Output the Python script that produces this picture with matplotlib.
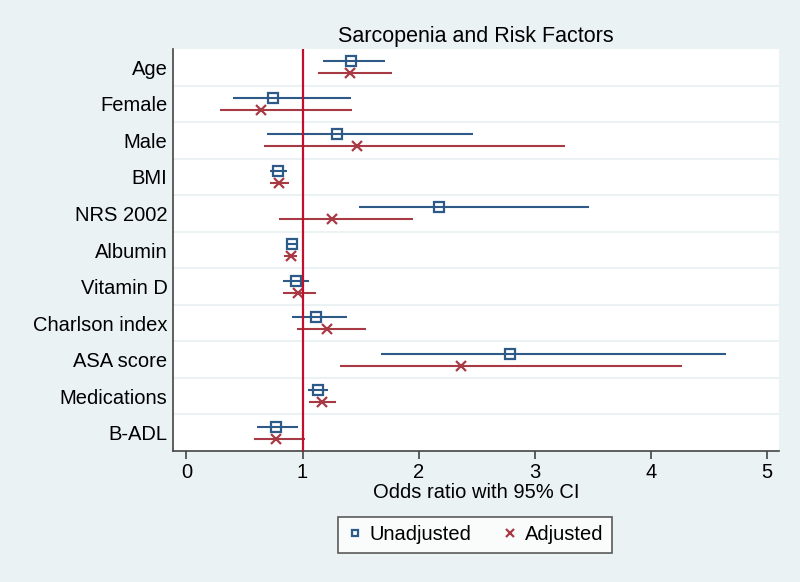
import matplotlib.pyplot as plt
import numpy as np

plt.rcParams['font.family'] = ['Liberation Sans', 'DejaVu Sans']

factors = ["Age", "Female", "Male", "BMI", "NRS 2002", "Albumin",
           "Vitamin D", "Charlson index", "ASA score", "Medications", "B-ADL"]

unadj_or = [1.42, 0.75, 1.30, 0.79, 2.18, 0.91, 0.94, 1.12, 2.79, 1.13, 0.77]
unadj_lo = [1.18, 0.40, 0.69, 0.72, 1.49, 0.86, 0.83, 0.91, 1.68, 1.05, 0.61]
unadj_hi = [1.71, 1.42, 2.47, 0.87, 3.47, 0.96, 1.06, 1.38, 4.65, 1.22, 0.96]

adj_or = [1.41, 0.64, 1.47, 0.80, 1.25, 0.90, 0.96, 1.21, 2.37, 1.17, 0.77]
adj_lo = [1.13, 0.29, 0.67, 0.72, 0.80, 0.84, 0.83, 0.95, 1.32, 1.06, 0.58]
adj_hi = [1.77, 1.43, 3.26, 0.88, 1.95, 0.95, 1.12, 1.55, 4.27, 1.29, 1.02]

xticks = [0, 1, 2, 3, 4, 5]

bg = "#eaf2f3"
blue = "#2d5a87"
red = "#a83a45"

fig = plt.figure(figsize=(8, 5.82), dpi=100, facecolor=bg)
ax = fig.add_axes([173 / 800, 1 - 451 / 582, (779 - 173) / 800, (451 - 49) / 582])
ax.set_facecolor("white")

n = len(factors)
pos = np.arange(n)
off = 0.165

ax.hlines(pos - off, unadj_lo, unadj_hi, color=blue, lw=1.5, zorder=3)
ax.plot(unadj_or, pos - off, ls="none", marker="s", ms=7, mfc="none",
        mec=blue, mew=1.6, zorder=4, label="Unadjusted")
ax.hlines(pos + off, adj_lo, adj_hi, color=red, lw=1.5, zorder=3)
ax.plot(adj_or, pos + off, ls="none", marker="x", ms=7.5, mec=red,
        mew=1.6, zorder=4, label="Adjusted")

ax.axvline(1, color="#c0102c", lw=1.6, zorder=5)

# band separators
for b in np.arange(0.5, n - 1, 1):
    ax.axhline(b, color=bg, lw=1.5, zorder=1)

ax.set_ylim(n - 0.5, -0.5)
ax.set_xlim(-0.116, 5.106)
ax.set_yticks(pos)
ax.set_yticklabels(factors, fontsize=14.5)
ax.set_xticks(xticks)
ax.set_xticklabels([str(t) for t in xticks], fontsize=14.5)
ax.tick_params(axis="y", length=0, pad=4)
ax.tick_params(axis="x", length=6, width=1.2, color="#444444", pad=3)

for s in ["top", "right"]:
    ax.spines[s].set_visible(False)
for s in ["left", "bottom"]:
    ax.spines[s].set_color("#444444")
    ax.spines[s].set_linewidth(1.2)

ax.set_xlabel("Odds ratio with 95% CI", fontsize=14.5, labelpad=0)
ax.set_title("Sarcopenia and Risk Factors", fontsize=15.5, pad=5)

leg = fig.legend(loc="center", bbox_to_anchor=(475 / 800, 1 - 535 / 582),
                 ncol=2, fontsize=14.5, frameon=True, fancybox=False,
                 edgecolor="#333333", handlelength=0.8, columnspacing=1.5,
                 borderpad=0.4, handletextpad=0.35, markerscale=0.7)
leg.get_frame().set_linewidth(1.2)
leg.get_frame().set_facecolor("white")

fig.savefig("out.png", dpi=100, facecolor=bg)
